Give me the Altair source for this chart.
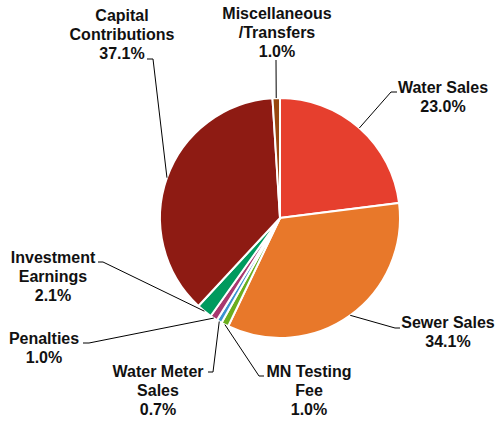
import math
import altair as alt
import pandas as pd

# ---- data ----
categories = ["Water Sales", "Sewer Sales", "MN Testing Fee", "Water Meter Sales",
              "Penalties", "Investment Earnings", "Capital Contributions",
              "Miscellaneous/Transfers"]
values = [23.0, 34.1, 1.0, 0.7, 1.0, 2.1, 37.1, 1.0]
colors = ["#E63F2E", "#E8782A", "#6AAE1E", "#3A92D0", "#A8386F", "#009A5E",
          "#8E1B13", "#97470F"]
label_lines = [["Water Sales", "23.0%"], ["Sewer Sales", "34.1%"],
               ["MN Testing", "Fee", "1.0%"], ["Water Meter", "Sales", "0.7%"],
               ["Penalties", "1.0%"], ["Investment", "Earnings", "2.1%"],
               ["Capital", "Contributions", "37.1%"],
               ["Miscellaneous", "/Transfers", "1.0%"]]

# ---- layout (pixels) ----
CX, CY, R = 280, 218, 120
LINE_H = 19.2
# text center x, first-line center y
text_pos = [(443, 88), (448, 323), (309, 372), (158, 372), (44, 339),
            (53, 258), (122, 16), (277, 14)]
# leader elbow and end points
leader = [[(391, 92), (397, 92)], [(395, 328), (400, 328)],
          [(259, 376), (264, 376)], [(213, 372), (208, 372)],
          [(89, 343), (83, 343)], [(103, 262), (98, 262)],
          [(153, 59), (147, 59)], [(276, 60), (276, 60)]]

total = sum(values)
pie_df = pd.DataFrame({"category": categories, "value": values,
                       "order": list(range(len(values)))})

# leader lines start at slice edge (mid-angle)
rows = []
cum = 0.0
for i, (c, v) in enumerate(zip(categories, values)):
    mid = (cum + v / 2) / total * 2 * math.pi
    cum += v
    sx = CX + R * math.sin(mid)
    sy = CY - R * math.cos(mid)
    pts = [(sx, sy)] + leader[i]
    for k, (x, y) in enumerate(pts):
        rows.append({"category": c, "k": k, "x": x, "y": y})
line_df = pd.DataFrame(rows)

trows = []
for i, lines in enumerate(label_lines):
    tx, ty = text_pos[i]
    for j, t in enumerate(lines):
        trows.append({"t": t, "x": tx, "y": ty + j * LINE_H})
text_df = pd.DataFrame(trows)

pie = alt.Chart(pie_df).mark_arc(outerRadius=R, stroke="white", strokeWidth=2).encode(
    theta=alt.Theta("value:Q", stack=True),
    order=alt.Order("order:Q"),
    color=alt.Color("category:N", scale=alt.Scale(domain=categories, range=colors), legend=None),
    x=alt.value(CX), y=alt.value(CY),
)

lines = alt.Chart(line_df).mark_line(color="black", strokeWidth=1).encode(
    x=alt.X("x:Q", scale=None), y=alt.Y("y:Q", scale=None),
    detail="category:N", order="k:Q",
)

texts = alt.Chart(text_df).mark_text(
    font="Liberation Sans", fontWeight="bold", fontSize=16, color="#111111",
    align="center", baseline="middle",
).encode(x=alt.X("x:Q", scale=None), y=alt.Y("y:Q", scale=None), text="t:N")

chart = alt.layer(pie, lines, texts).properties(
    width=499, height=421, autosize=alt.AutoSizeParams(type="none"), padding=0,
).configure_view(stroke=None)

chart.save("out.html", embed_options={"renderer": "svg", "actions": False})
